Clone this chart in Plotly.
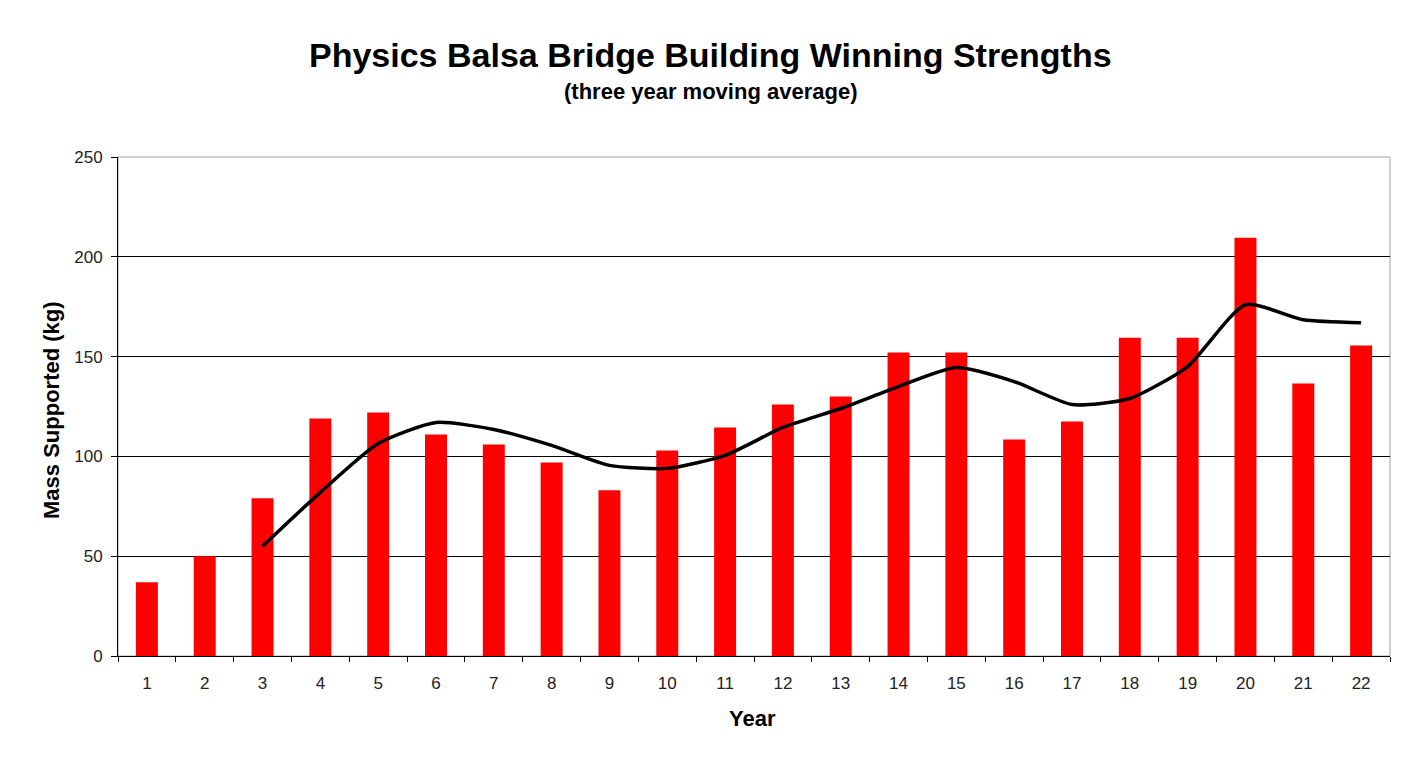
import plotly.graph_objects as go

years = [str(i) for i in range(1, 23)]
winning = [37, 50, 79, 119, 122, 111, 106, 97, 83, 103, 114.5, 126, 130, 152,
           152, 108.5, 117.5, 159.5, 159.5, 209.5, 136.5, 155.5]
avg_years = [str(i) for i in range(3, 23)]
moving_avg = [55, 82, 106.5, 117, 113.5, 105.5, 95.5, 94, 100.5, 114.5, 124,
              135, 144.5, 137.5, 126, 129, 145, 176, 168.5, 167]
y_ticks = [0, 50, 100, 150, 200, 250]

FONT = "Liberation Sans, Arial, sans-serif"

# page has an 8px body margin; figure sized accordingly
W, H = 1395, 749
L, R, T, B = 110, 13, 149, 101
PW, PH = W - L - R, H - T - B


def px_x(x):
    return (x - 8 - L) / PW


def px_y(y):
    return (H - B - (y - 8)) / PH


fig = go.Figure()
fig.add_trace(go.Bar(x=years, y=winning, marker=dict(color="#ff0000", line=dict(width=0)),
                     name="Winning strength"))
fig.add_trace(go.Scatter(x=avg_years, y=moving_avg, mode="lines",
                         line=dict(color="black", width=3.5, shape="spline", smoothing=0.6),
                         name="3-yr moving average"))

fig.update_layout(
    width=W, height=H,
    margin=dict(l=L, r=R, t=T, b=B),
    paper_bgcolor="white", plot_bgcolor="white",
    showlegend=False,
    bargap=0.62,
    font=dict(family=FONT, color="black"),
    annotations=[
        dict(text="<b>Physics Balsa Bridge Building Winning Strengths</b>",
             x=px_x(710), y=px_y(55), xref="paper", yref="paper", showarrow=False,
             xanchor="center", yanchor="middle", font=dict(size=34, family=FONT)),
        dict(text="<b>(three year moving average)</b>",
             x=px_x(710), y=px_y(91), xref="paper", yref="paper", showarrow=False,
             xanchor="center", yanchor="middle", font=dict(size=22, family=FONT)),
        dict(text="<b>Year</b>",
             x=px_x(752), y=px_y(718), xref="paper", yref="paper", showarrow=False,
             xanchor="center", yanchor="middle", font=dict(size=22, family=FONT)),
        dict(text="<b>Mass Supported (kg)</b>", textangle=-90,
             x=px_x(51), y=px_y(410), xref="paper", yref="paper", showarrow=False,
             xanchor="center", yanchor="middle", font=dict(size=22, family=FONT)),
    ],
    shapes=[dict(type="rect", xref="paper", yref="paper", x0=0, x1=1, y0=0, y1=1,
                 line=dict(color="#a0a0a0", width=1), layer="below")],
)

fig.update_xaxes(
    type="category", range=[-0.5, 21.5],
    tickson="boundaries", ticks="outside", ticklen=5, tickcolor="black", tickwidth=1,
    showline=True, linecolor="black", linewidth=1, showgrid=False,
    ticklabelstandoff=12,
    tickfont=dict(size=17, color="#222222", family=FONT),
)
fig.update_yaxes(
    range=[0, 250], tickvals=y_ticks,
    ticks="outside", ticklen=6, tickcolor="black", tickwidth=1,
    showline=True, linecolor="black", linewidth=1,
    showgrid=True, gridcolor="black", gridwidth=1, zeroline=False,
    ticklabelstandoff=5,
    tickfont=dict(size=17, color="#222222", family=FONT),
)

fig.write_html("out.html")
